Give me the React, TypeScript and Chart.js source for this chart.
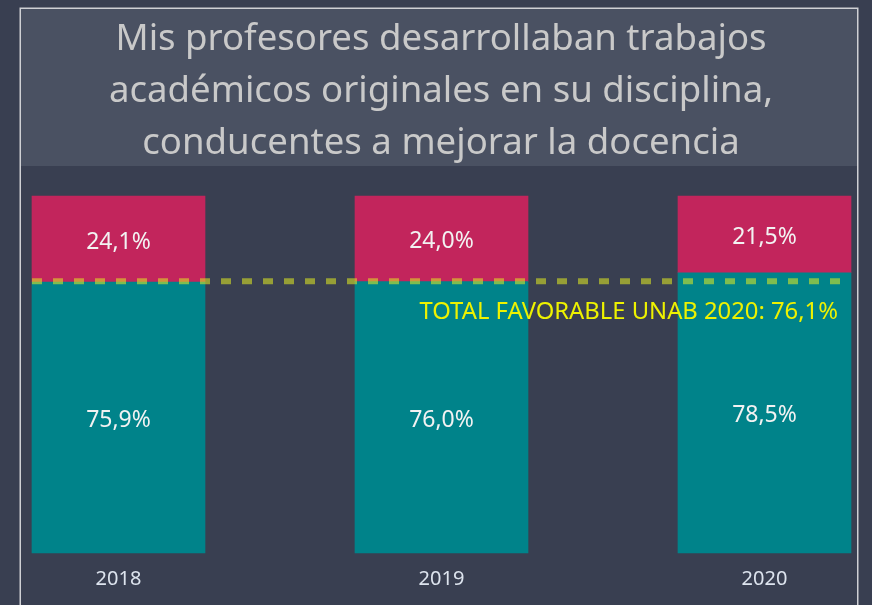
import React, { useEffect, useRef } from 'react';
import { Chart, registerables } from 'chart.js';

Chart.register(...registerables);

const categories = ['2018', '2019', '2020'];
const favorable = [75.9, 76.0, 78.5];
const unfavorable = [24.1, 24.0, 21.5];
const totalFavorable2020 = 76.1;
const referenceLabel = 'TOTAL FAVORABLE UNAB 2020: 76,1%';
const titleLines = [
  'Mis profesores desarrollaban trabajos',
  'académicos originales en su disciplina,',
  'conducentes a mejorar la docencia',
];

const FONT = '"Segoe UI", "Noto Sans", "Open Sans", sans-serif';
const BAR_W = 173;

const fmt = (v: number) => v.toFixed(1).replace('.', ',') + '%';

const bgPlugin = {
  id: 'bgPlugin',
  beforeDraw(chart: any) {
    const { ctx, width, height } = chart;
    ctx.save();
    ctx.fillStyle = '#393f51';
    ctx.fillRect(0, 0, width, height);
    ctx.fillStyle = '#4a5162';
    ctx.fillRect(21, 9, 836, 157);
    ctx.strokeStyle = '#cfd0d4';
    ctx.lineWidth = 1.5;
    ctx.strokeRect(20.25, 8.25, 837.5, height + 20);
    ctx.fillStyle = '#c9c9c9';
    ctx.font = `36.6px ${FONT}`;
    ctx.textAlign = 'center';
    ctx.textBaseline = 'middle';
    const ys = [40, 92, 144];
    titleLines.forEach((t, i) => ctx.fillText(t, 441, ys[i]));
    ctx.restore();
  },
};

const overlayPlugin = {
  id: 'overlayPlugin',
  afterDatasetsDraw(chart: any) {
    const { ctx } = chart;
    const xs = chart.scales.x;
    const ys = chart.scales.y;
    ctx.save();
    // value labels
    ctx.fillStyle = '#f2f2f2';
    ctx.font = `23px ${FONT}`;
    ctx.textAlign = 'center';
    ctx.textBaseline = 'middle';
    chart.data.datasets.forEach((ds: any, di: number) => {
      const meta = chart.getDatasetMeta(di);
      meta.data.forEach((el: any, i: number) => {
        const y = (el.y + el.base) / 2 + 3;
        ctx.fillText(fmt(ds.data[i]), el.x, y);
      });
    });
    // reference dashed line
    const y = ys.getPixelForValue(totalFavorable2020);
    const x0 = xs.getPixelForValue(0) - BAR_W / 2;
    const x1 = xs.getPixelForValue(categories.length - 1) + BAR_W / 2;
    ctx.strokeStyle = 'rgba(224,236,34,0.56)';
    ctx.lineWidth = 6;
    ctx.setLineDash([10, 11]);
    ctx.beginPath();
    ctx.moveTo(x0, y);
    ctx.lineTo(x1, y);
    ctx.stroke();
    ctx.setLineDash([]);
    ctx.fillStyle = '#eef200';
    ctx.font = `23.8px ${FONT}`;
    ctx.textAlign = 'right';
    ctx.fillText(referenceLabel, 838, y + 31);
    ctx.restore();
  },
};

export default function App() {
  const ref = useRef<HTMLCanvasElement>(null);
  useEffect(() => {
    if (!ref.current) return;
    const chart = new Chart(ref.current, {
      type: 'bar',
      data: {
        labels: categories,
        datasets: [
          { label: 'Favorable', data: favorable, backgroundColor: '#00838a', barThickness: BAR_W, clip: false as any },
          { label: 'Desfavorable', data: unfavorable, backgroundColor: '#c2255c', barThickness: BAR_W, clip: false as any },
        ],
      },
      options: {
        animation: false,
        responsive: false,
        maintainAspectRatio: false,
        layout: { padding: { left: 118.5, right: 107.5, top: 196, bottom: 8 } },
        plugins: { legend: { display: false }, tooltip: { enabled: false }, title: { display: false } },
        scales: {
          x: {
            stacked: true,
            offset: false,
            grid: { display: false },
            border: { display: false },
            ticks: { color: '#dde4ee', font: { size: 20, family: FONT }, padding: 6, maxRotation: 0 },
          },
          y: { stacked: true, min: 0, max: 100, display: false },
        },
      },
      plugins: [bgPlugin, overlayPlugin],
    });
    return () => chart.destroy();
  }, []);
  return (
    <div style={{ position: 'fixed', left: 0, top: 0, width: 872, height: 605 }}>
      <canvas ref={ref} width={872} height={605} style={{ display: 'block' }} />
    </div>
  );
}
